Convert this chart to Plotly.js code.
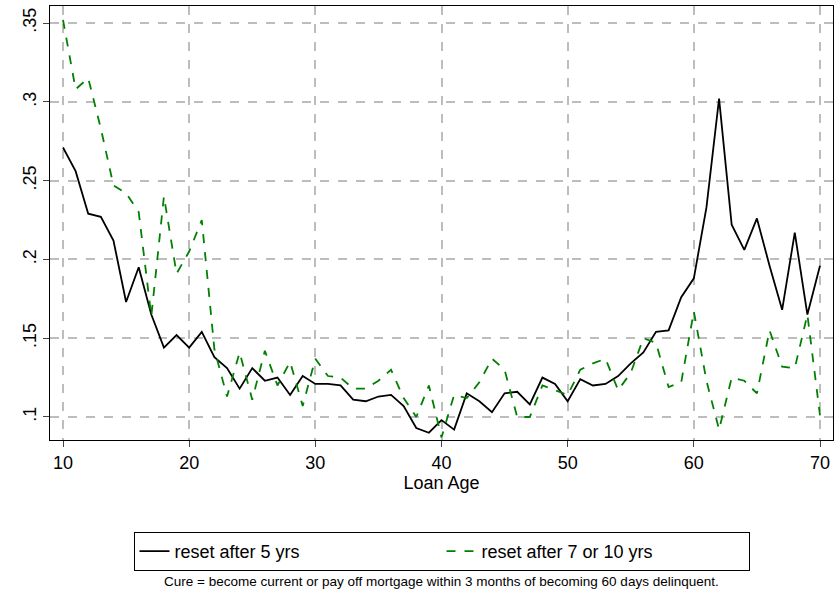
<!DOCTYPE html>
<html><head><script src="https://cdn.plot.ly/plotly-3.0.1.min.js"></script>
<style>body{margin:0}</style></head><body><div id="c" style="width:834px;height:595px"></div>
<script>
const loanAge=[];for(let i=10;i<=70;i++)loanAge.push(i);
const reset5=[.271,.256,.229,.227,.212,.173,.195,.165,.144,.152,.144,.154,.138,.131,.118,.131,.123,.125,.114,.126,.121,.121,.120,.111,.110,.113,.114,.107,.093,.090,.098,.092,.115,.110,.103,.115,.116,.108,.125,.121,.110,.124,.120,.121,.126,.134,.141,.154,.155,.176,.188,.233,.302,.222,.206,.226,.196,.168,.217,.165,.196];
const reset710=[.352,.308,.315,.283,.247,.242,.230,.164,.240,.191,.205,.225,.143,.113,.141,.111,.142,.120,.135,.107,.137,.126,.125,.118,.118,.123,.130,.112,.100,.120,.087,.114,.112,.122,.137,.130,.100,.100,.120,.117,.114,.130,.134,.137,.117,.128,.150,.147,.119,.122,.167,.123,.092,.125,.123,.115,.155,.132,.131,.165,.101];
const yTicks=[.1,.15,.2,.25,.3,.35], yLabels=['.1','.15','.2','.25','.3','.35'];
const grid={showgrid:true,gridcolor:'#bdbdbd',griddash:'dash',gridwidth:1.5};
Plotly.newPlot('c',[
 {x:loanAge,y:reset5,mode:'lines',name:'reset after 5 yrs',line:{color:'black',width:1.8}},
 {x:loanAge,y:reset710,mode:'lines',name:'reset after 7 or 10 yrs',line:{color:'#008000',width:1.8,dash:'dash'}}
],{
 width:834,height:595,margin:{l:50,r:1,t:6,b:155,autoexpand:false},paper_bgcolor:'white',plot_bgcolor:'white',
 font:{family:'Liberation Sans, Arial',size:18,color:'black'},
 xaxis:Object.assign({range:[8.97,71.03],tickvals:[10,20,30,40,50,60,70],ticks:'outside',ticklen:6,showline:true,linecolor:'black',mirror:true,zeroline:false,
   title:{text:'Loan Age',standoff:2,font:{size:18}}},grid),
 yaxis:Object.assign({range:[.0854,.3608],tickvals:yTicks,ticktext:yLabels,tickangle:-90,ticks:'outside',ticklen:6,showline:true,linecolor:'black',mirror:true,zeroline:false},grid),
 showlegend:true,
 legend:{orientation:'h',x:0.5,xanchor:'center',y:-0.212,yanchor:'top',bordercolor:'black',borderwidth:1,font:{size:18},entrywidth:262,traceorder:'normal'},
 annotations:[{text:'Cure = become current or pay off mortgage within 3 months of becoming 60 days delinquent.',xref:'paper',yref:'paper',x:0.5,y:-0.325,showarrow:false,font:{size:13.5},xanchor:'center',yanchor:'middle'}]
},{displayModeBar:false});
</script></body></html>
